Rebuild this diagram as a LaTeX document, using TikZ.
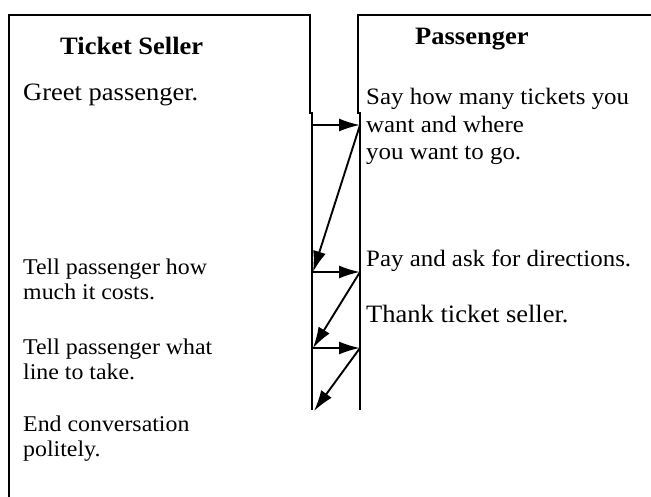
\documentclass[tikz,border=0pt]{standalone}
\usepackage{fontspec}
\setmainfont{Liberation Serif}[FakeStretch=1.06]
\usetikzlibrary{arrows.meta}
\tikzset{
  frame/.style={line width=2.6pt},
  msg/.style={line width=1.9pt,-{Latex[length=21pt,width=13pt]}},
  txt/.style={anchor=base west,inner sep=0pt,font=\fontsize{23.5}{27}\selectfont},
  big/.style={anchor=base west,inner sep=0pt,font=\fontsize{25}{28}\selectfont},
  small/.style={anchor=base west,inner sep=0pt,font=\fontsize{22.5}{25}\selectfont},
  head/.style={anchor=base west,inner sep=0pt,font=\fontsize{25}{28}\selectfont\bfseries},
}
\begin{document}
\begin{tikzpicture}[x=1pt,y=-1pt]
\useasboundingbox (0,0) rectangle (651,497);
% cut-off heading fragment
\begin{scope}
\clip (0,0) rectangle (651,6);
\node[head] (frag) at (74,-8) {g};
\end{scope}
% frames
\draw[frame] (9,497) -- (9,15) -- (310,15) -- (310,113) -- (312,113) -- (312,410);
\draw[frame] (651,15) -- (358,15) -- (358,113) -- (360,113) -- (360,410);
% message coordinates
\coordinate (a1) at (312,125);
\coordinate (b1) at (360,125);
\coordinate (a2) at (313,272);
\coordinate (b2) at (360,272);
\coordinate (a3) at (313,348);
\coordinate (b3) at (360,348);
\coordinate (a4) at (314,411);
\draw[msg] (a1) -- (b1);
\draw[msg] (b1) -- (a2);
\draw[msg] (a2) -- (b2);
\draw[msg] (b2) -- (a3);
\draw[msg] (a3) -- (b3);
\draw[msg] (b3) -- (a4);
% headings
\node[head] (ts) at (60,55) {Ticket Seller};
\node[head] (pa) at (415,45) {Passenger};
% left column
\node[big] (t1) at (23,101) {Greet passenger.};
\node[small] (t2) at (23,275) {Tell passenger how};
\node[small] (t2b) at (23,300) {much it costs.};
\node[small] (t3) at (23,354) {Tell passenger what};
\node[small] (t3b) at (23,379) {line to take.};
\node[small] (t4) at (23,431) {End conversation};
\node[small] (t4b) at (23,456) {politely.};
% right column
\node[txt] (p1) at (366,105) {Say how many tickets you};
\node[txt] (p1b) at (366,133) {want and where};
\node[txt] (p1c) at (366,160) {you want to go.};
\node[txt] (p2) at (366,267) {Pay and ask for directions.};
\node[big] (p3) at (366,323) {Thank ticket seller.};
\end{tikzpicture}
\end{document}
